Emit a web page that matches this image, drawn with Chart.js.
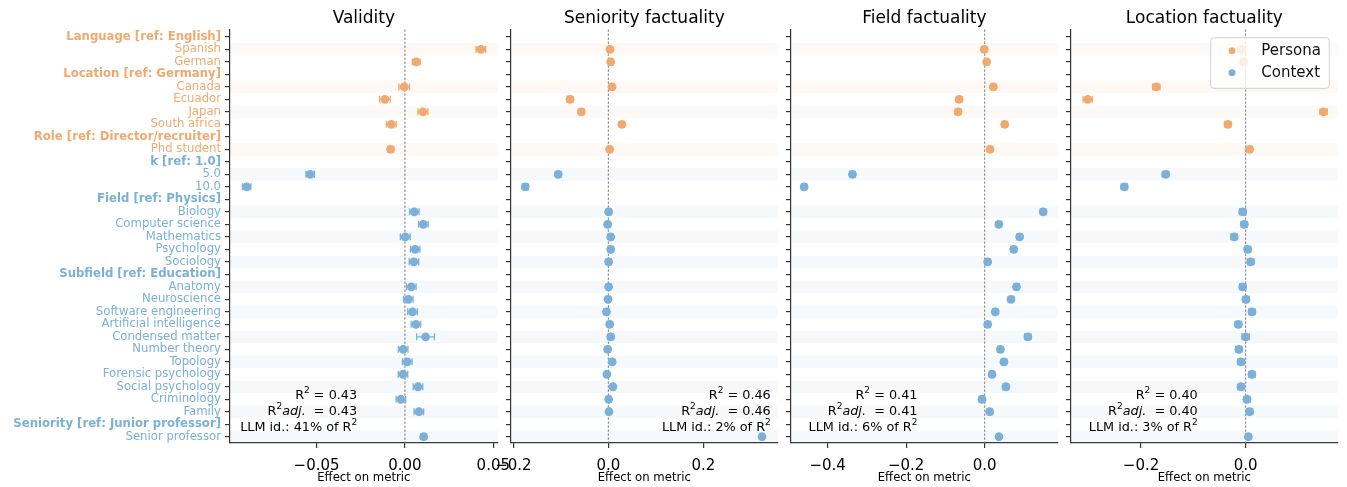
<!DOCTYPE html>
<html>
<head>
<meta charset="utf-8">
<script src="https://cdn.jsdelivr.net/npm/chart.js@4.4.1/dist/chart.umd.min.js"></script>
<style>
  html, body { margin: 0; padding: 0; background: #fff; }
  #wrap { position: relative; width: 1347px; height: 487px; overflow: hidden; }
  .panel { position: absolute; top: 0; height: 487px; }
</style>
</head>
<body>
<div id="wrap">
  <div class="panel" style="left:0px;width:520px"><canvas id="p0"></canvas></div>
  <div class="panel" style="left:490px;width:300px"><canvas id="p1"></canvas></div>
  <div class="panel" style="left:770px;width:300px"><canvas id="p2"></canvas></div>
  <div class="panel" style="left:1050px;width:297px"><canvas id="p3"></canvas></div>
</div>
<script>
const rowLabels = [
    'Language [ref: English]', 'Spanish', 'German',
    'Location [ref: Germany]', 'Canada', 'Ecuador', 'Japan', 'South africa',
    'Role [ref: Director/recruiter]', 'Phd student',
    'k [ref: 1.0]', '5.0', '10.0',
    'Field [ref: Physics]', 'Biology', 'Computer science', 'Mathematics', 'Psychology', 'Sociology',
    'Subfield [ref: Education]', 'Anatomy', 'Neuroscience', 'Software engineering', 'Artificial intelligence',
    'Condensed matter', 'Number theory', 'Topology', 'Forensic psychology', 'Social psychology', 'Criminology', 'Family',
    'Seniority [ref: Junior professor]', 'Senior professor'
];
const headerLabels = [
    'Language [ref: English]', 'Location [ref: Germany]', 'Role [ref: Director/recruiter]',
    'k [ref: 1.0]', 'Field [ref: Physics]', 'Subfield [ref: Education]', 'Seniority [ref: Junior professor]'
];
// rows before this index are Persona variables, the rest are Context
const personaRows = 10;
const seriesNames = ['Persona', 'Context'];

const panelTitles = ['Validity', 'Seniority factuality', 'Field factuality', 'Location factuality'];

// effects (null = group header row)
const validity = [null, 0.043, 0.0064, null, -0.0004, -0.0113, 0.0102, -0.0077, null, -0.0081, null, -0.0536, -0.0896,
    null, 0.0053, 0.0104, 0.0002, 0.0058, 0.0051, null, 0.0036, 0.0019, 0.0043, 0.0062, 0.0117, -0.001, 0.0013,
    -0.0011, 0.0074, -0.0023, 0.0079, null, 0.0106];
const validityErr = [null, 0.0027, 0.0022, null, 0.003, 0.003, 0.0028, 0.0028, null, 0.0017, null, 0.0024, 0.0024,
    null, 0.0027, 0.0027, 0.0028, 0.0027, 0.0027, null, 0.0027, 0.0027, 0.0027, 0.0027, 0.005, 0.0027, 0.0027,
    0.0027, 0.0027, 0.0027, 0.0027, null, 0.0017];

const seniorityFact = [null, 0.0035, 0.005, null, 0.0077, -0.0806, -0.057, 0.0285, null, 0.0028, null, -0.1056, -0.175,
    null, 0.0006, -0.0014, 0.005, 0.005, 0.0006, null, 0.0006, -0.0007, -0.004, 0.0028, 0.005, -0.0015, 0.008,
    -0.003, 0.0097, 0.0007, 0.0014, null, 0.3236];
const seniorityFactErr = [null, 0.005, 0.005, null, 0.005, 0.006, 0.006, 0.005, null, 0.004, null, 0.006, 0.006,
    null, 0.005, 0.005, 0.005, 0.005, 0.005, null, 0.005, 0.005, 0.005, 0.005, 0.006, 0.005, 0.005,
    0.005, 0.005, 0.005, 0.005, null, 0.004];

const fieldFact = [null, -0.001, 0.005, null, 0.022, -0.065, -0.068, 0.051, null, 0.0135, null, -0.337, -0.46,
    null, 0.149, 0.036, 0.089, 0.074, 0.0076, null, 0.081, 0.067, 0.027, 0.0076, 0.11, 0.04, 0.049,
    0.0186, 0.054, -0.0069, 0.0127, null, 0.0364];
const fieldFactErr = [null, 0.006, 0.006, null, 0.007, 0.007, 0.007, 0.007, null, 0.005, null, 0.007, 0.007,
    null, 0.007, 0.007, 0.007, 0.007, 0.007, null, 0.007, 0.007, 0.007, 0.007, 0.008, 0.007, 0.007,
    0.007, 0.007, 0.007, 0.007, null, 0.005];

const locationFact = [null, -0.008, -0.004, null, -0.171, -0.302, 0.149, -0.034, null, 0.0076, null, -0.153, -0.232,
    null, -0.0057, -0.0026, -0.022, 0.0038, 0.0096, null, -0.0057, 0.0006, 0.012, -0.014, 0.0, -0.0128, -0.009,
    0.012, -0.009, 0.0025, 0.0076, null, 0.005];
const locationFactErr = [null, 0.006, 0.006, null, 0.007, 0.009, 0.007, 0.006, null, 0.005, null, 0.006, 0.006,
    null, 0.006, 0.006, 0.006, 0.006, 0.006, null, 0.006, 0.006, 0.006, 0.006, 0.007, 0.006, 0.006,
    0.006, 0.006, 0.006, 0.006, null, 0.005];

const xTicks = [
    [-0.05, 0, 0.05],
    [-0.2, 0, 0.2],
    [-0.4, -0.2, 0],
    [-0.2, 0]
];

const r2 = ['0.43', '0.46', '0.41', '0.40'];
const r2adj = ['0.43', '0.46', '0.41', '0.40'];
const llmShare = ['41%', '2%', '6%', '3%'];

// layout / style per panel
const panels = [
    { id: 'p0', axisWidth: 230, padRight: 22.3, min: -0.099, max: 0.0525, decimals: 2, noteX: 0.475 },
    { id: 'p1', axisWidth: 21, padRight: 12.3, min: -0.205, max: 0.3566, decimals: 1, noteX: 0.974 },
    { id: 'p2', axisWidth: 21, padRight: 12.3, min: -0.4935, max: 0.186, decimals: 1, noteX: 0.474 },
    { id: 'p3', axisWidth: 21, padRight: 9.3, min: -0.334, max: 0.176, decimals: 1, noteX: 0.475 }
];
const allValues = [validity, seniorityFact, fieldFact, locationFact];
const allErrors = [validityErr, seniorityFactErr, fieldFactErr, locationFactErr];

const ORANGE = '#f1a96f';
const BLUE = '#7bb0d8';
const FONT = "'DejaVu Sans', sans-serif";
Chart.defaults.font.family = FONT;

function rowColor(i) {
    return i < personaRows ? ORANGE : BLUE;
}

// alternate shading inside each group, first item shaded
const shaded = [];
let count = 0;
rowLabels.forEach((label, i) => {
    if (headerLabels.includes(label)) {
        count = 0;
        shaded.push(false);
    } else {
        shaded.push(count % 2 === 0);
        count++;
    }
});

function fmt(v, d) {
    return v.toFixed(d).replace('-', '\u2212');
}

function drawRich(ctx, parts, xRight, y) {
    let width = 0;
    parts.forEach(p => {
        ctx.font = p.font;
        width += ctx.measureText(p.t).width;
    });
    let x = xRight - width;
    parts.forEach(p => {
        ctx.font = p.font;
        ctx.fillText(p.t, x, y + (p.dy || 0));
        x += ctx.measureText(p.t).width;
    });
}

const backgroundPlugin = {
    id: 'background',
    beforeDatasetsDraw(chart, args, opts) {
        const { ctx, chartArea } = chart;
        const xs = chart.scales.x;
        const ys = chart.scales.y;
        ctx.save();
        // row bands
        rowLabels.forEach((label, i) => {
            if (!shaded[i]) return;
            const y1 = ys.getPixelForValue(i - 0.5);
            const y2 = ys.getPixelForValue(i + 0.5);
            ctx.fillStyle = i < personaRows ? 'rgba(241,169,111,0.075)' : 'rgba(123,176,216,0.08)';
            ctx.fillRect(chartArea.left, y1, chartArea.right - chartArea.left, y2 - y1);
        });
        // zero line
        const x0 = xs.getPixelForValue(0);
        ctx.strokeStyle = '#777';
        ctx.lineWidth = 0.9;
        ctx.setLineDash([2.5, 1.5]);
        ctx.beginPath();
        ctx.moveTo(x0, chartArea.top);
        ctx.lineTo(x0, chartArea.bottom);
        ctx.stroke();
        ctx.setLineDash([]);
        // error bars
        const vals = allValues[opts.k];
        const errs = allErrors[opts.k];
        ctx.lineWidth = 1.3;
        vals.forEach((v, i) => {
            if (v === null || errs[i] === null) return;
            const y = ys.getPixelForValue(i);
            const xa = xs.getPixelForValue(v - errs[i]);
            const xb = xs.getPixelForValue(v + errs[i]);
            ctx.strokeStyle = rowColor(i);
            ctx.beginPath();
            ctx.moveTo(xa, y); ctx.lineTo(xb, y);
            ctx.moveTo(xa, y - 3.5); ctx.lineTo(xa, y + 3.5);
            ctx.moveTo(xb, y - 3.5); ctx.lineTo(xb, y + 3.5);
            ctx.stroke();
        });
        ctx.restore();
    },
    afterDraw(chart, args, opts) {
        const { ctx, chartArea } = chart;
        const k = opts.k;
        ctx.save();
        ctx.fillStyle = '#000';
        ctx.textBaseline = 'middle';
        const xr = chartArea.left + panels[k].noteX * (chartArea.right - chartArea.left);
        const base = '12.8px ' + FONT;
        const sup = '9px ' + FONT;
        drawRich(ctx, [{ t: 'R', font: base }, { t: '2', font: sup, dy: -5 }, { t: ' = ' + r2[k], font: base }], xr, 395.5);
        drawRich(ctx, [{ t: 'R', font: base }, { t: '2', font: sup, dy: -5 }, { t: 'adj.', font: 'italic ' + base },
            { t: '  = ' + r2adj[k], font: base }], xr, 411.5);
        drawRich(ctx, [{ t: 'LLM id.: ' + llmShare[k] + ' of R', font: base }, { t: '2', font: sup, dy: -5 }], xr, 427.5);

        if (k === 3) {
            // legend box
            const bx = chartArea.right - 127, by = chartArea.top + 8.3, bw = 118.6, bh = 50.6;
            ctx.fillStyle = 'rgba(255,255,255,0.8)';
            ctx.strokeStyle = '#d0d0d0';
            ctx.lineWidth = 1;
            ctx.beginPath();
            ctx.roundRect(bx, by, bw, bh, 3);
            ctx.fill();
            ctx.stroke();
            [ORANGE, BLUE].forEach((c, j) => {
                const y = by + 13 + j * 22;
                ctx.fillStyle = c;
                ctx.beginPath();
                ctx.arc(bx + 21.3, y, 3.4, 0, Math.PI * 2);
                ctx.fill();
                ctx.fillStyle = '#111';
                ctx.font = '15px ' + FONT;
                ctx.textAlign = 'left';
                ctx.fillText(seriesNames[j], bx + 50.6, y);
            });
        }
        ctx.restore();
    }
};

panels.forEach((p, k) => {
    const vals = allValues[k];
    const persona = [];
    const context = [];
    vals.forEach((v, i) => {
        if (v === null) return;
        (i < personaRows ? persona : context).push({ x: v, y: i });
    });

    new Chart(document.getElementById(p.id), {
        type: 'scatter',
        data: {
            datasets: [
                { label: seriesNames[0], data: persona, backgroundColor: ORANGE, borderWidth: 0, pointRadius: 4.4 },
                { label: seriesNames[1], data: context, backgroundColor: BLUE, borderWidth: 0, pointRadius: 4.4 }
            ]
        },
        options: {
            responsive: true,
            maintainAspectRatio: false,
            animation: false,
            events: [],
            layout: { padding: { top: 0, right: p.padRight, bottom: 0, left: 0 } },
            plugins: {
                legend: { display: false },
                tooltip: { enabled: false },
                title: {
                    display: true,
                    text: panelTitles[k],
                    fullSize: false,
                    color: '#000',
                    font: { size: 17, weight: 'normal' },
                    padding: { top: 8, bottom: 1 }
                },
                background: { k: k }
            },
            scales: {
                x: {
                    type: 'linear',
                    min: p.min,
                    max: p.max,
                    border: { color: '#333', width: 1.2 },
                    grid: { drawOnChartArea: false, color: '#333', lineWidth: 1.2, tickLength: 5 },
                    ticks: {
                        color: '#000',
                        font: { size: 15 },
                        padding: 9,
                        maxRotation: 0,
                        autoSkip: false,
                        callback: v => fmt(v, p.decimals)
                    },
                    title: {
                        display: true,
                        text: 'Effect on metric',
                        color: '#000',
                        font: { size: 11.7 },
                        padding: { top: 0, bottom: 2 }
                    },
                    afterBuildTicks: s => { s.ticks = xTicks[k].map(v => ({ value: v })); },
                    afterFit: s => { s.height = 44; s.paddingLeft = 0; s.paddingRight = 0; }
                },
                y: {
                    type: 'linear',
                    reverse: true,
                    min: -0.6,
                    max: 32.5,
                    border: { color: '#333', width: 1.2 },
                    grid: { drawOnChartArea: false, color: '#333', lineWidth: 1.2, tickLength: 5 },
                    ticks: {
                        autoSkip: false,
                        padding: 4,
                        color: ctx => rowColor(ctx.index),
                        font: ctx => ({ size: 11.7, weight: headerLabels.includes(rowLabels[ctx.index]) ? 'bold' : 'normal' }),
                        callback: (v, i) => (k === 0 ? rowLabels[i] : '')
                    },
                    afterBuildTicks: s => { s.ticks = rowLabels.map((_, i) => ({ value: i })); },
                    afterFit: s => { s.width = p.axisWidth; s.paddingTop = 0; s.paddingBottom = 0; }
                }
            }
        },
        plugins: [backgroundPlugin]
    });
});
</script>
</body>
</html>
